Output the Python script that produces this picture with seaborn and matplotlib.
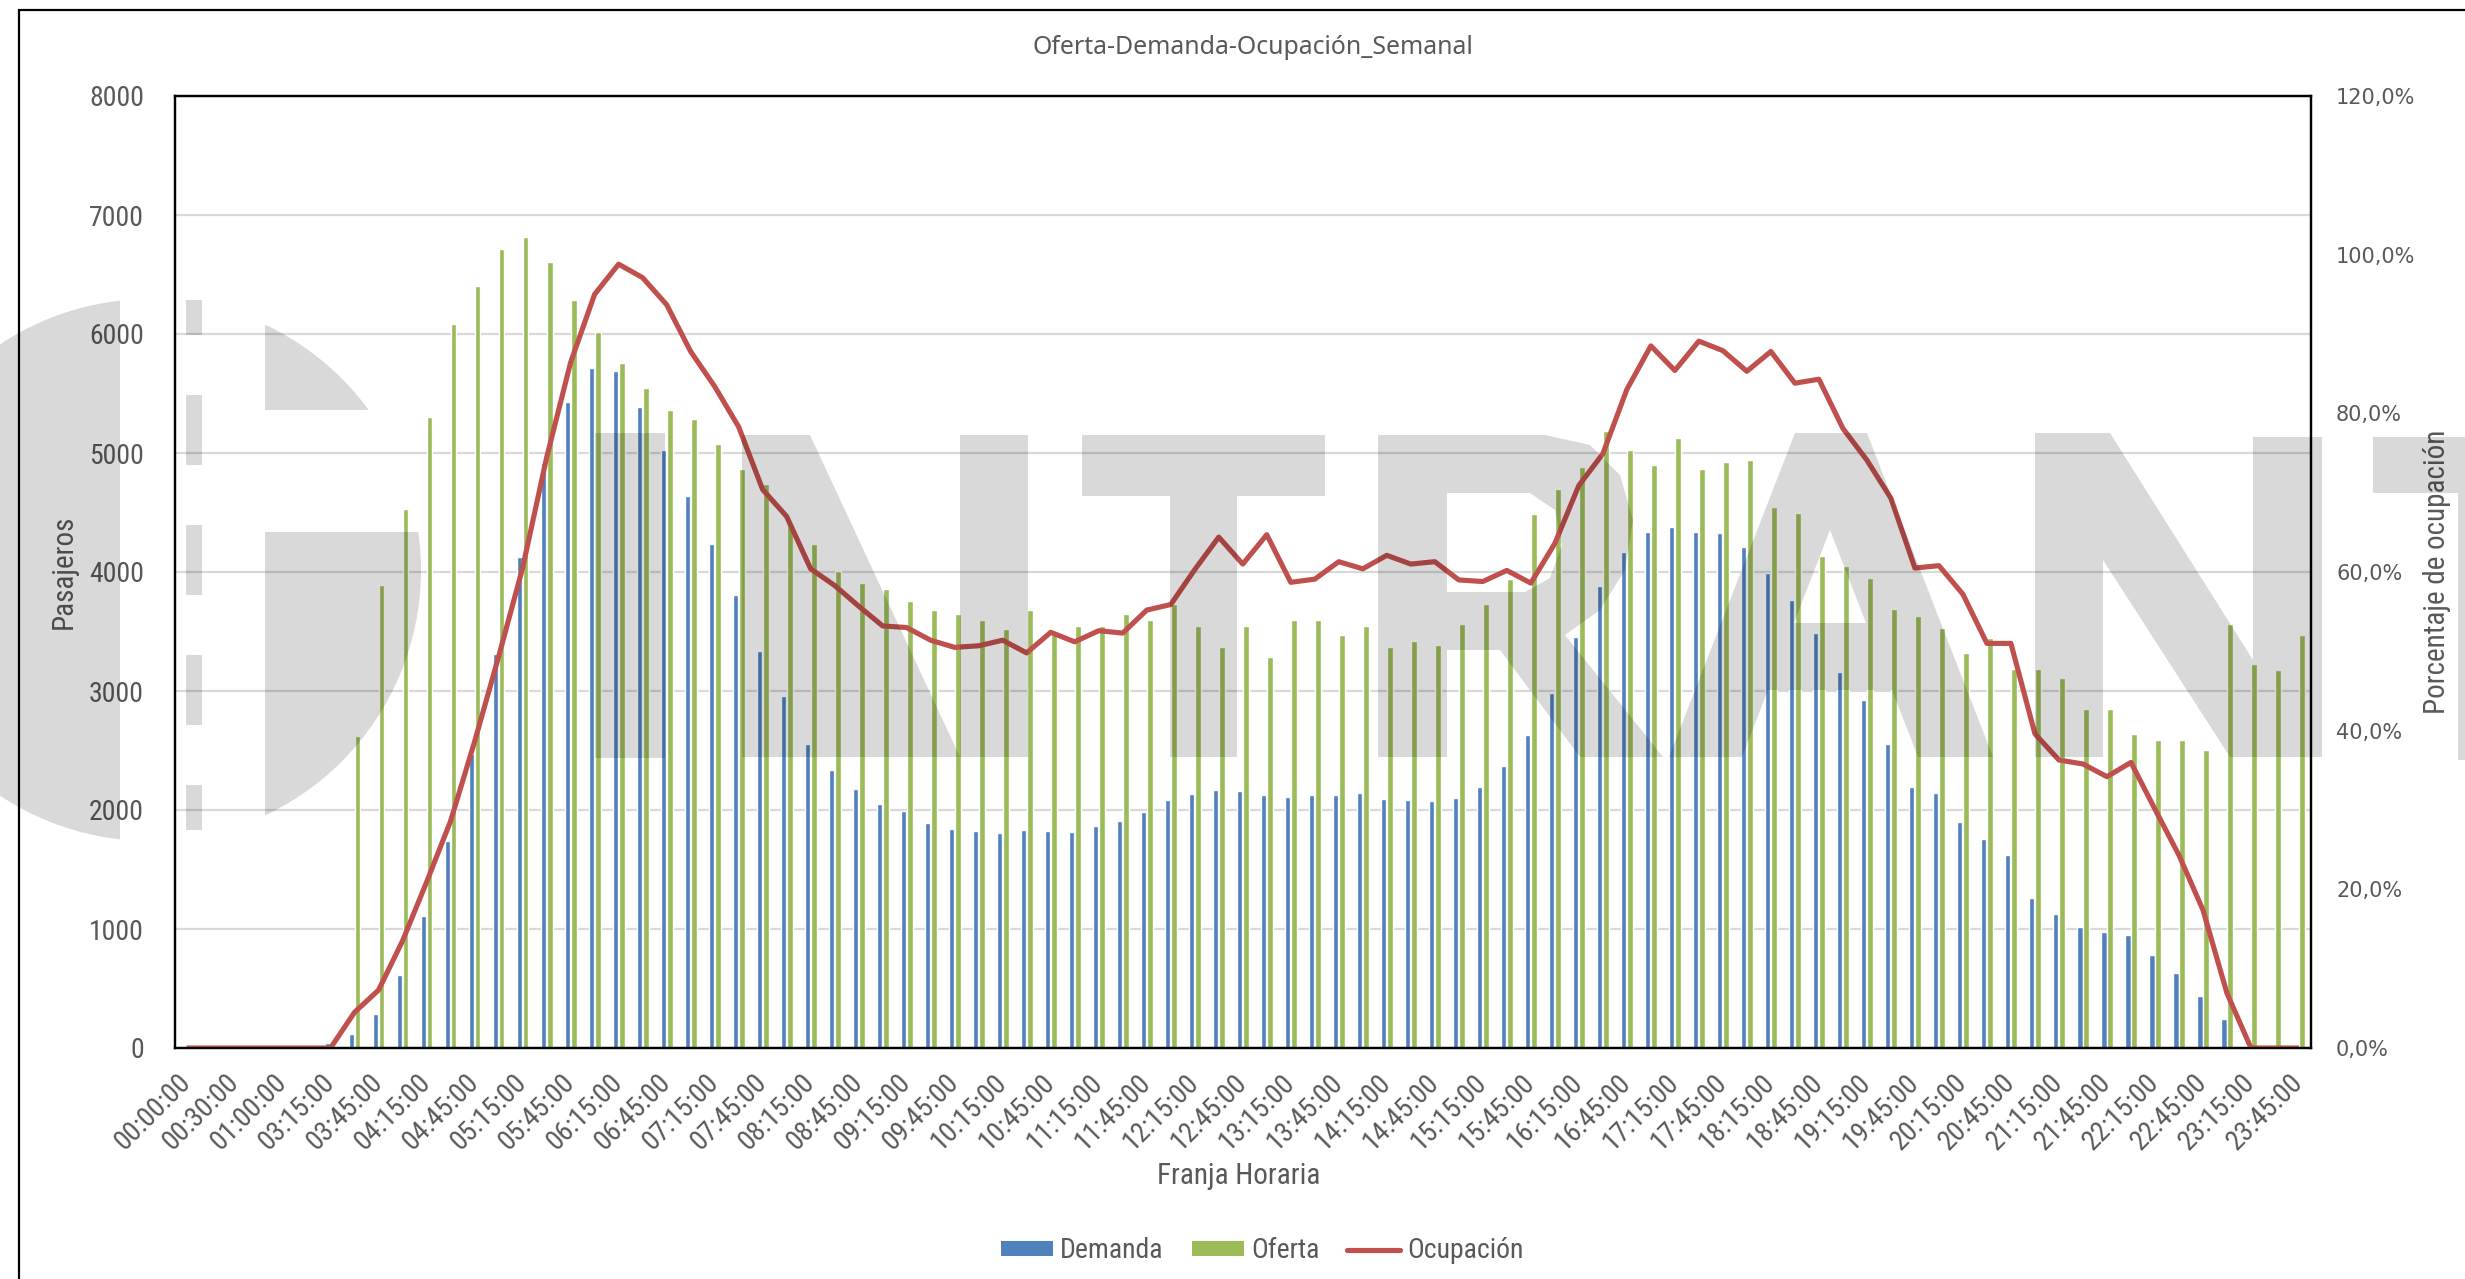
import numpy as np
import pandas as pd
import matplotlib
matplotlib.use("Agg")
import matplotlib.pyplot as plt
import seaborn as sns
from matplotlib import font_manager
from matplotlib.patches import Patch, PathPatch, Rectangle, Circle, Polygon
from matplotlib.lines import Line2D
from matplotlib.path import Path
from matplotlib.ticker import FuncFormatter

# ---------------------------------------------------------------- data
franjas = [
    "00:00:00", "00:15:00", "00:30:00", "00:45:00", "01:00:00", "01:15:00",
    "03:15:00", "03:30:00", "03:45:00", "04:00:00", "04:15:00", "04:30:00",
    "04:45:00", "05:00:00", "05:15:00", "05:30:00", "05:45:00", "06:00:00",
    "06:15:00", "06:30:00", "06:45:00", "07:00:00", "07:15:00", "07:30:00",
    "07:45:00", "08:00:00", "08:15:00", "08:30:00", "08:45:00", "09:00:00",
    "09:15:00", "09:30:00", "09:45:00", "10:00:00", "10:15:00", "10:30:00",
    "10:45:00", "11:00:00", "11:15:00", "11:30:00", "11:45:00", "12:00:00",
    "12:15:00", "12:30:00", "12:45:00", "13:00:00", "13:15:00", "13:30:00",
    "13:45:00", "14:00:00", "14:15:00", "14:30:00", "14:45:00", "15:00:00",
    "15:15:00", "15:30:00", "15:45:00", "16:00:00", "16:15:00", "16:30:00",
    "16:45:00", "17:00:00", "17:15:00", "17:30:00", "17:45:00", "18:00:00",
    "18:15:00", "18:30:00", "18:45:00", "19:00:00", "19:15:00", "19:30:00",
    "19:45:00", "20:00:00", "20:15:00", "20:30:00", "20:45:00", "21:00:00",
    "21:15:00", "21:30:00", "21:45:00", "22:00:00", "22:15:00", "22:30:00",
    "22:45:00", "23:00:00", "23:15:00", "23:30:00", "23:45:00",
]

demanda = [
    0, 0, 0, 0, 0, 0,
    40, 118, 286, 613, 1109, 1739,
    2470, 3311, 4125, 4916, 5429, 5717,
    5689, 5387, 5025, 4639, 4235, 3810,
    3336, 2958, 2555, 2336, 2176, 2050,
    1992, 1891, 1840, 1824, 1807, 1832,
    1824, 1815, 1866, 1908, 1983, 2084,
    2134, 2168, 2160, 2126, 2109, 2126,
    2126, 2143, 2092, 2084, 2076, 2101,
    2193, 2370, 2630, 2983, 3454, 3882,
    4168, 4336, 4378, 4336, 4328, 4210,
    3992, 3765, 3487, 3160, 2924, 2555,
    2193, 2143, 1896, 1754, 1619, 1258,
    1123, 1014, 972, 947, 779, 627,
    434, 241, 0, 0, 0,
]

oferta = [
    0, 0, 0, 0, 0, 0,
    0, 2622, 3891, 4527, 5300, 6084,
    6403, 6714, 6815, 6605, 6286, 6017,
    5756, 5546, 5361, 5286, 5076, 4868,
    4739, 4415, 4235, 4008, 3908, 3857,
    3756, 3681, 3647, 3597, 3521, 3681,
    3480, 3546, 3546, 3647, 3597, 3728,
    3546, 3370, 3546, 3286, 3597, 3597,
    3471, 3546, 3370, 3420, 3387, 3563,
    3731, 3941, 4487, 4697, 4882, 5185,
    5025, 4899, 5126, 4866, 4924, 4941,
    4546, 4496, 4134, 4050, 3950, 3689,
    3630, 3529, 3319, 3443, 3185, 3185,
    3109, 2849, 2849, 2639, 2588, 2588,
    2504, 3563, 3227, 3174, 3468,
]

ocupacion = [  # %
    0.0, 0.0, 0.0, 0.0, 0.0, 0.0,
    0.0, 4.5, 7.3, 13.5, 20.9, 28.6,
    38.6, 49.3, 60.5, 74.4, 86.4, 95.0,
    98.8, 97.1, 93.7, 87.8, 83.4, 78.3,
    70.4, 67.0, 60.4, 58.3, 55.7, 53.2,
    53.0, 51.4, 50.5, 50.7, 51.4, 49.8,
    52.4, 51.2, 52.6, 52.3, 55.2, 55.9,
    60.3, 64.4, 61.0, 64.7, 58.7, 59.1,
    61.3, 60.4, 62.1, 61.0, 61.3, 59.0,
    58.8, 60.2, 58.6, 63.6, 70.9, 74.9,
    83.0, 88.5, 85.4, 89.1, 87.9, 85.3,
    87.8, 83.8, 84.3, 78.1, 74.1, 69.3,
    60.5, 60.8, 57.2, 51.0, 51.0, 39.6,
    36.3, 35.8, 34.2, 36.0, 30.1, 24.3,
    17.4, 6.9, 0.0, 0.0, 0.0,
]

series = ["Demanda", "Oferta"]
colores = {"Demanda": "#4f81bd", "Oferta": "#9bbb59"}
color_ocup = "#c0504d"

# ---------------------------------------------------------------- fonts
_avail = {f.name for f in font_manager.fontManager.ttflist}


def pick(*names):
    for n in names:
        if n in _avail:
            return n
    return "DejaVu Sans"


NARROW = pick("Liberation Sans Narrow", "Roboto Condensed", "Lato")
WIDE = "DejaVu Sans"
TITLE_FONT = pick("Noto Sans", "Open Sans", "DejaVu Sans")
GREY = "#595959"

sns.set_theme(style="white")
plt.rcParams["font.family"] = [NARROW, "DejaVu Sans"]

# ---------------------------------------------------------------- figure
W, H = 2465, 1279
fig = plt.figure(figsize=(W / 100, H / 100), dpi=100)
fig.patch.set_facecolor("white")

ax = fig.add_axes([174.5 / W, 1 - 1048 / H, (2311 - 174.5) / W, (1048 - 96) / H])

df = pd.DataFrame({
    "Franja": franjas * 2,
    "Serie": [series[0]] * len(franjas) + [series[1]] * len(franjas),
    "Pasajeros": demanda + oferta,
})

sns.barplot(data=df, x="Franja", y="Pasajeros", hue="Serie", hue_order=series,
            palette=colores, saturation=1, width=0.53, gap=0.14,
            legend=False, ax=ax, zorder=2)

ax.set_ylim(0, 8000)
ax.set_yticks(range(0, 8001, 1000))
ax.yaxis.grid(True, color="#d9d9d9", lw=1.6, zorder=0)
ax.xaxis.grid(False)
ax.set_axisbelow(True)
for s in ax.spines.values():
    s.set_color("black")
    s.set_linewidth(1.6)
    s.set_visible(True)

xpos = np.arange(len(franjas))
ax.set_xticks(xpos[::2])
ax.set_xticklabels(franjas[::2], rotation=45, ha="right", va="center",
                   rotation_mode="anchor", fontsize=20, color=GREY)
ax.tick_params(axis="x", length=0, pad=22)
ax.tick_params(axis="y", length=0, pad=22, labelsize=20, labelcolor=GREY)

ax.set_xlabel("Franja Horaria", fontsize=21, color=GREY)
ax.xaxis.set_label_coords(0.498, -0.1345)
ax.xaxis.label.set_va("center")
ax.set_ylabel("Pasajeros", fontsize=21, color=GREY)
ax.yaxis.set_label_coords(-0.0517, 0.5)
ax.yaxis.label.set_va("center")

# occupancy line on the secondary axis
ax2 = ax.twinx()
sns.lineplot(x=xpos, y=ocupacion, ax=ax2, color=color_ocup, lw=3.7,
             legend=False, solid_joinstyle="round", solid_capstyle="butt")
ax2.set_ylim(0, 120)
ax2.set_yticks(range(0, 121, 20))
ax2.yaxis.set_major_formatter(FuncFormatter(lambda v, p: f"{v:.1f}%".replace(".", ",")))
for lab in ax2.get_yticklabels():
    lab.set_fontfamily(WIDE)
ax2.tick_params(axis="y", length=0, pad=18, labelsize=15, labelcolor=GREY)
ax2.set_ylabel("Porcentaje de ocupación", fontsize=21, color=GREY)
ax2.yaxis.set_label_coords(1.059, 0.5)
ax2.yaxis.label.set_va("center")
ax2.grid(False)
for s in ax2.spines.values():
    s.set_color("black")
    s.set_linewidth(1.6)

ax.set_xlim(-0.5, len(franjas) - 0.5)

# title
fig.text(1253 / W, 1 - 47 / H, "Oferta-Demanda-Ocupación_Semanal",
         ha="center", va="center", fontsize=17.9, color=GREY, family=TITLE_FONT)

# legend
handles = [Patch(facecolor=colores["Demanda"], edgecolor="none"),
           Patch(facecolor=colores["Oferta"], edgecolor="none"),
           Line2D([0], [0], color=color_ocup, lw=3.7)]
fig.legend(handles, ["Demanda", "Oferta", "Ocupación"], loc="center",
           bbox_to_anchor=(1262 / W, 1 - 1251 / H), ncol=3, frameon=False,
           fontsize=20, handlelength=1.9, handleheight=0.45,
           handletextpad=0.25, columnspacing=1.0, labelcolor=GREY)

# ---------------------------------------------------------------- overlay (frame + logo)
ov = fig.add_axes([0, 0, 1, 1], zorder=10)
ov.set_xlim(0, W)
ov.set_ylim(H, 0)
ov.axis("off")

# chart area border
ov.plot([19, 19, W + 5], [H + 5, 10, 10], color="black", lw=1.6,
        solid_joinstyle="miter")

WM = dict(facecolor="black", alpha=0.15, edgecolor="none")

# round emblem
disc = Circle((150, 570), 271, transform=ov.transData)
for x0, y0, x1, y1 in [(-10, 290, 120, 850), (265, 290, 430, 410), (265, 532, 430, 850)]:
    r = Rectangle((x0, y0), x1 - x0, y1 - y0, **WM)
    ov.add_patch(r)
    r.set_clip_path(disc)
for y0, y1 in [(300, 335), (395, 465), (525, 595), (655, 725), (785, 830)]:
    ov.add_patch(Rectangle((186, y0), 16, y1 - y0, **WM))

# letters
ov.add_patch(Rectangle((595, 433), 70, 325, **WM))
ov.add_patch(Polygon([(742, 435), (810, 435), (960, 757), (960, 435), (1028, 435),
                      (1028, 757), (742, 757)], closed=True, **WM))
ov.add_patch(Polygon([(1082, 435), (1325, 435), (1325, 496), (1237, 496), (1237, 757),
                      (1170, 757), (1170, 496), (1082, 496)], closed=True, **WM))

r_outer = [(1378, 435), (1545, 435), (1590, 445), (1620, 475), (1633, 520), (1625, 570),
           (1600, 610), (1565, 635), (1663, 757), (1580, 757), (1500, 650), (1447, 650),
           (1447, 757), (1378, 757)]
r_hole = [(1447, 493), (1447, 592), (1525, 592), (1550, 578), (1562, 545), (1555, 510),
          (1530, 493)]
a_outer = [(1669, 757), (1795, 433), (1867, 433), (1993, 757), (1918, 757), (1892, 690),
           (1768, 690), (1742, 757)]
a_hole = [(1830, 530), (1794, 623), (1866, 623)]


def compound(*rings):
    verts, codes = [], []
    for ring in rings:
        verts += ring + [ring[0]]
        codes += [Path.MOVETO] + [Path.LINETO] * (len(ring) - 1) + [Path.CLOSEPOLY]
    return Path(verts, codes)


ov.add_patch(PathPatch(compound(r_outer, r_hole), **WM))
ov.add_patch(PathPatch(compound(a_outer, a_hole), **WM))
ov.add_patch(Polygon([(2035, 433), (2110, 433), (2253, 660), (2253, 437), (2322, 437),
                      (2322, 757), (2230, 757), (2103, 560), (2103, 757), (2035, 757)],
                     closed=True, **WM))
ov.add_patch(Polygon([(2373, 437), (2470, 437), (2470, 760), (2458, 760), (2458, 493),
                      (2373, 493)], closed=True, **WM))

fig.savefig("out.png", dpi=100, facecolor="white")
